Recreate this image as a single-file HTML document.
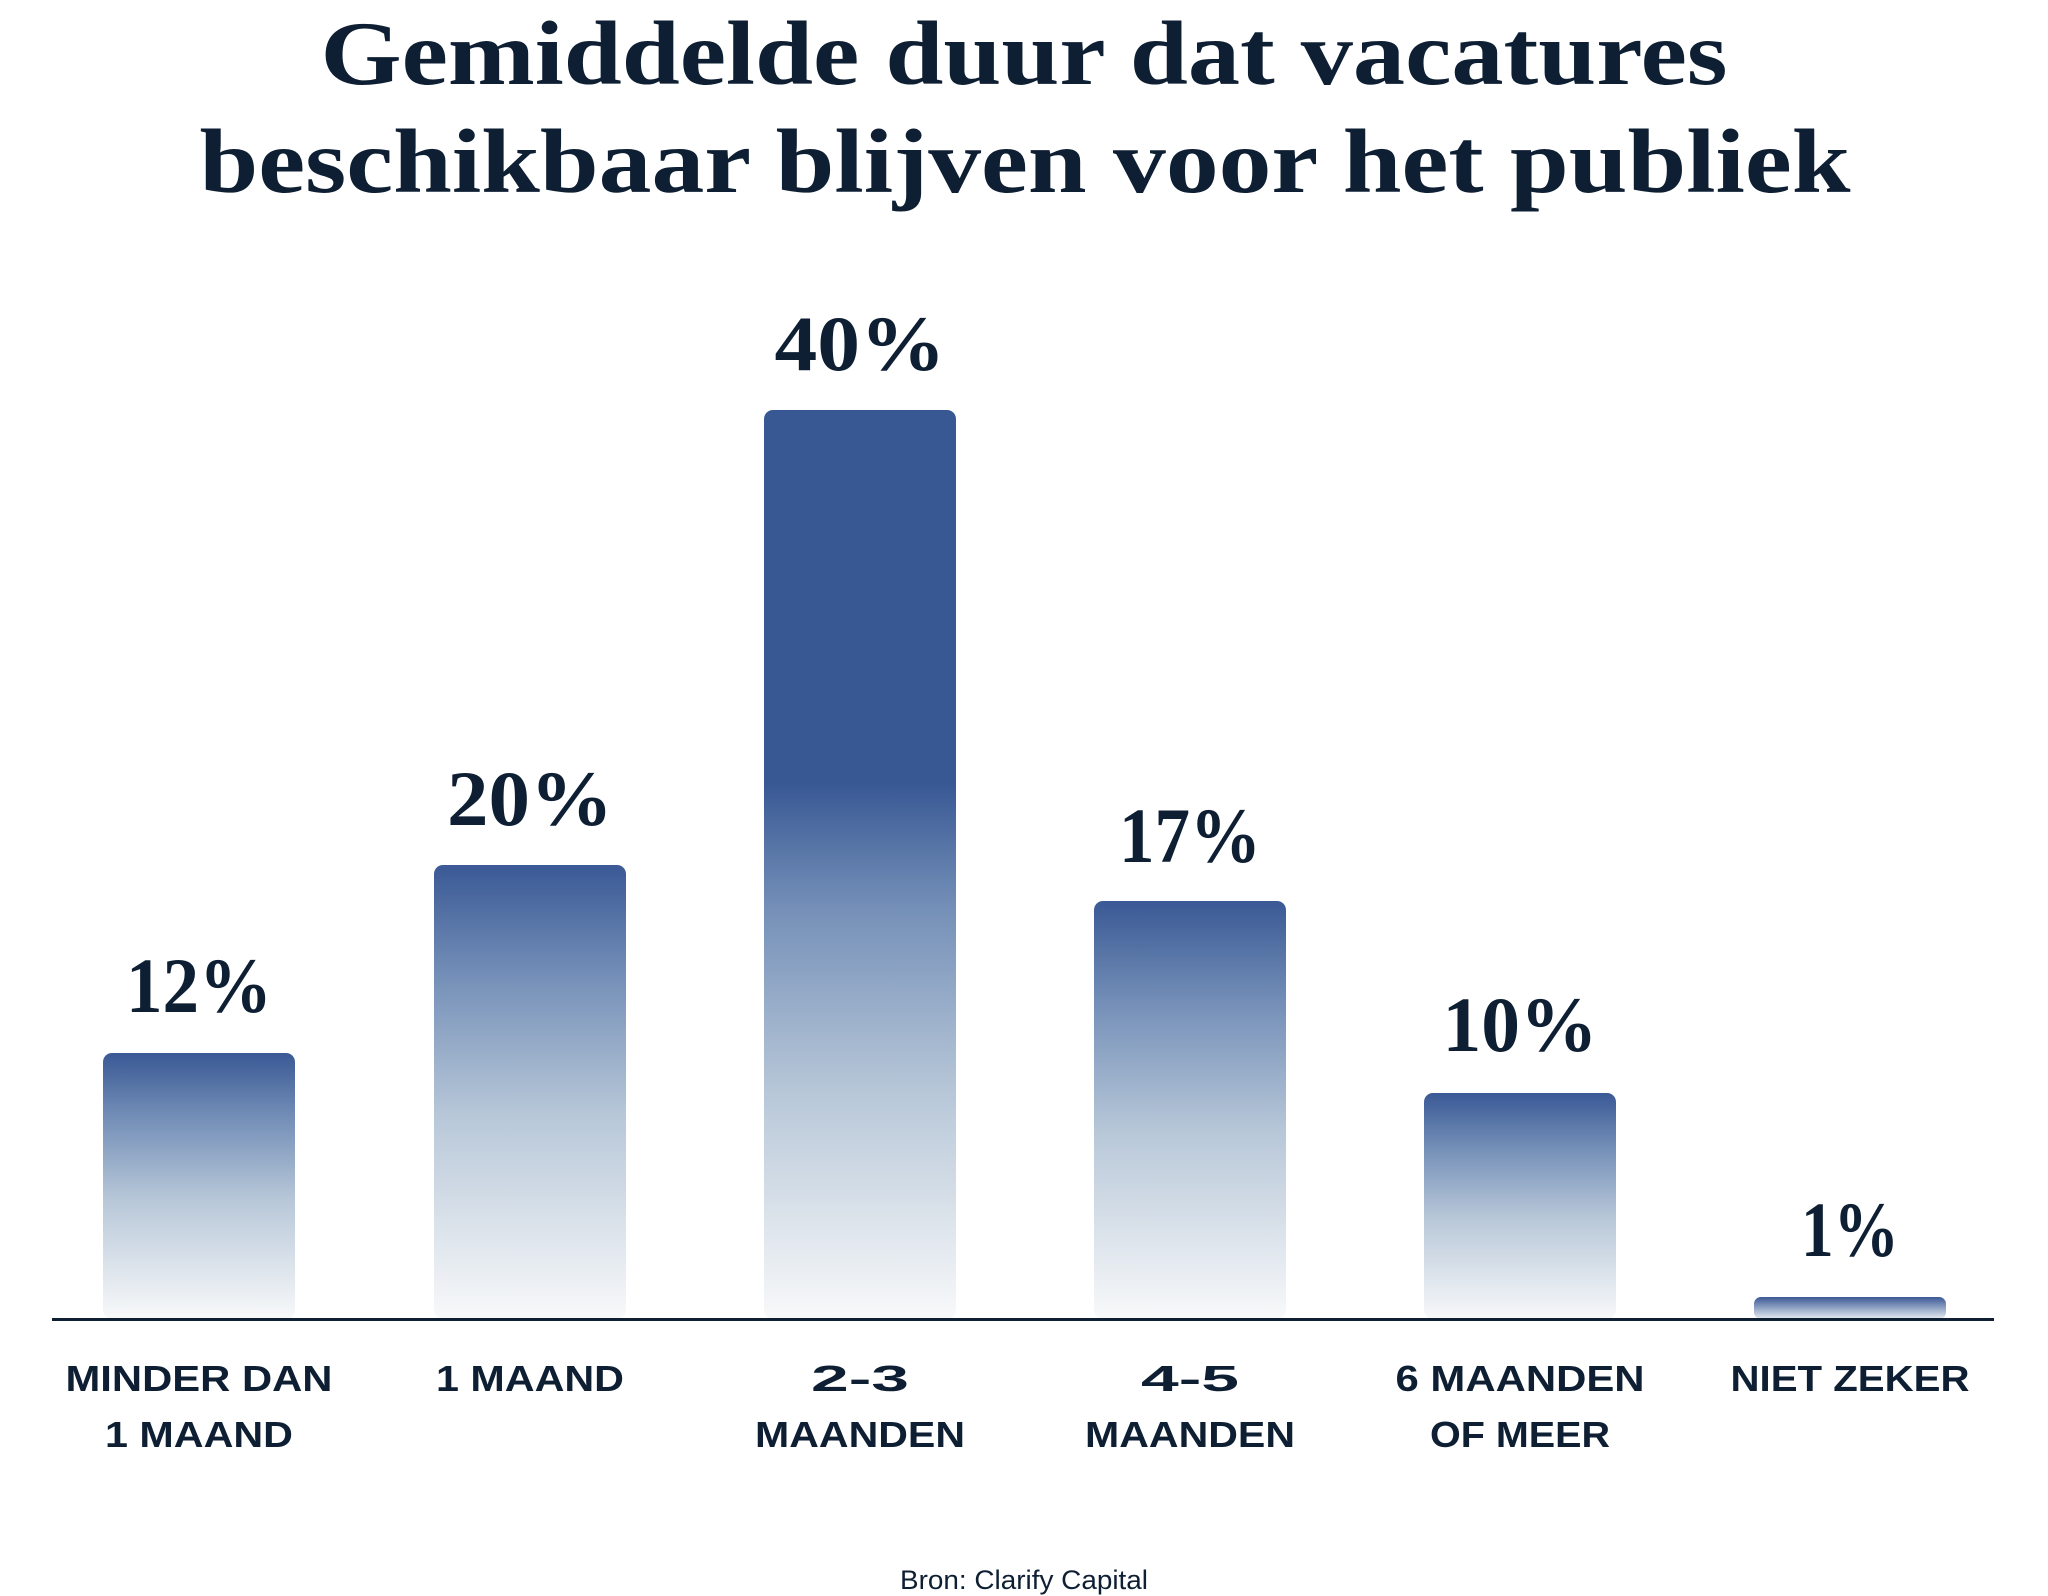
<!DOCTYPE html>
<html><head><meta charset="utf-8"><style>html,body{margin:0;padding:0;background:#fff}svg{display:block}</style></head>
<body>
<svg width="2048" height="1596" viewBox="0 0 2048 1596" xmlns="http://www.w3.org/2000/svg">
<defs>
<linearGradient id="g" x1="0" y1="0" x2="0" y2="1">
<stop offset="0" stop-color="#3a5995"/>
<stop offset="0.25" stop-color="#7590b8"/>
<stop offset="0.55" stop-color="#b7c7d8"/>
<stop offset="1" stop-color="#f8f9fa"/>
</linearGradient>
<linearGradient id="g3" x1="0" y1="0" x2="0" y2="1">
<stop offset="0" stop-color="#385894"/>
<stop offset="0.41" stop-color="#385894"/>
<stop offset="0.55" stop-color="#7590b8"/>
<stop offset="0.75" stop-color="#b7c7d8"/>
<stop offset="1" stop-color="#f8f9fa"/>
</linearGradient>
<linearGradient id="g6" x1="0" y1="0" x2="0" y2="1">
<stop offset="0" stop-color="#3a5995"/>
<stop offset="1" stop-color="#e8edf3"/>
</linearGradient>
</defs>
<g fill="#0e1f33" font-family="Liberation Serif, serif" font-weight="bold" font-size="91" text-anchor="middle">
<text x="1024" y="84" textLength="1407" lengthAdjust="spacingAndGlyphs">Gemiddelde duur dat vacatures</text>
<text x="1025" y="192" textLength="1651" lengthAdjust="spacingAndGlyphs">beschikbaar blijven voor het publiek</text>
</g>
<g>
<rect x="103" y="1053" width="192" height="266" rx="9" fill="url(#g)"/>
<rect x="434" y="865" width="192" height="454" rx="9" fill="url(#g)"/>
<rect x="764" y="410" width="192" height="909" rx="9" fill="url(#g3)"/>
<rect x="1094" y="901" width="192" height="418" rx="9" fill="url(#g)"/>
<rect x="1424" y="1093" width="192" height="226" rx="9" fill="url(#g)"/>
<rect x="1754" y="1297" width="192" height="22" rx="7" fill="url(#g6)"/>
</g>
<rect x="52" y="1318" width="1942" height="3" fill="#0e1f33"/>
<g fill="#0e1f33" font-family="Liberation Serif, serif" font-weight="bold" font-size="78" text-anchor="middle">
<text x="199" y="1012" textLength="146" lengthAdjust="spacingAndGlyphs">12%</text>
<text x="530" y="825" textLength="166" lengthAdjust="spacingAndGlyphs">20%</text>
<text x="860" y="370" textLength="171" lengthAdjust="spacingAndGlyphs">40%</text>
<text x="1190" y="862" textLength="142" lengthAdjust="spacingAndGlyphs">17%</text>
<text x="1520" y="1051" textLength="155" lengthAdjust="spacingAndGlyphs">10%</text>
<text x="1850" y="1256" textLength="98" lengthAdjust="spacingAndGlyphs">1%</text>
</g>
<g fill="#0e1f33" font-family="Liberation Sans, sans-serif" font-weight="bold" font-size="36" text-anchor="middle">
<text x="199" y="1391" textLength="267" lengthAdjust="spacingAndGlyphs">MINDER DAN</text>
<text x="199" y="1447" textLength="188" lengthAdjust="spacingAndGlyphs">1 MAAND</text>
<text x="530" y="1391" textLength="188" lengthAdjust="spacingAndGlyphs">1 MAAND</text>
<text x="860" y="1391" textLength="98" lengthAdjust="spacingAndGlyphs">2-3</text>
<text x="860" y="1447" textLength="210" lengthAdjust="spacingAndGlyphs">MAANDEN</text>
<text x="1190" y="1391" textLength="98" lengthAdjust="spacingAndGlyphs">4-5</text>
<text x="1190" y="1447" textLength="210" lengthAdjust="spacingAndGlyphs">MAANDEN</text>
<text x="1520" y="1391" textLength="249" lengthAdjust="spacingAndGlyphs">6 MAANDEN</text>
<text x="1520" y="1447" textLength="180" lengthAdjust="spacingAndGlyphs">OF MEER</text>
<text x="1850" y="1391" textLength="239" lengthAdjust="spacingAndGlyphs">NIET ZEKER</text>
</g>
<text x="1024" y="1589" fill="#0e1f33" font-family="Liberation Sans, sans-serif" font-size="27" text-anchor="middle" textLength="248" lengthAdjust="spacingAndGlyphs">Bron: Clarify Capital</text>
</svg>
</body></html>
